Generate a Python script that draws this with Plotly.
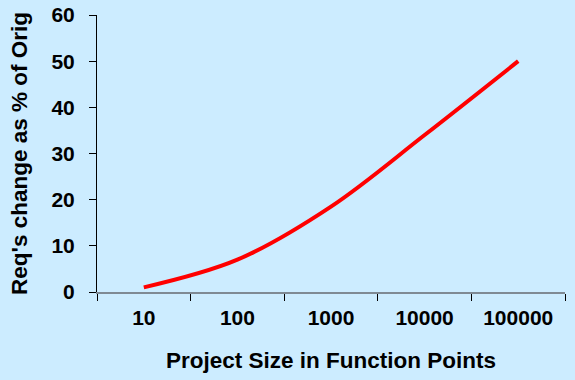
import plotly.graph_objects as go

sizes = ["10", "100", "1000", "10000", "100000"]
req_change = [1, 7, 18.5, 34, 50]
y_ticks = [0, 10, 20, 30, 40, 50, 60]

bg = "#CCECFF"
font_family = "Liberation Sans, Arial, sans-serif"

fig = go.Figure()
fig.add_trace(go.Scatter(
    x=sizes, y=req_change, mode="lines",
    line=dict(color="#FF0000", width=4, shape="spline", smoothing=1.0),
    hoverinfo="skip", showlegend=False,
))

fig.update_layout(
    width=575, height=380,
    paper_bgcolor=bg, plot_bgcolor=bg,
    margin=dict(l=97, r=10, t=15, b=88, autoexpand=False),
    font=dict(family=font_family, color="black"),
    xaxis=dict(
        type="category", tickson="boundaries", range=[-0.5, 4.5],
        automargin=False,
        showgrid=False, zeroline=False,
        showline=True, linecolor="#7F8A94", linewidth=2,
        ticks="outside", ticklen=7, tickcolor="black", tickwidth=1,
        tickfont=dict(size=21, family=font_family),
        ticklabelstandoff=6,
        tickvals=sizes, ticktext=[f"<b>{s}</b>" for s in sizes],
        title=dict(text="<b>Project Size in Function Points</b>",
                   font=dict(size=22.5, family=font_family), standoff=24),
    ),
    yaxis=dict(
        range=[0, 60], tickvals=y_ticks,
        automargin=False,
        ticktext=[f"<b>{v}</b>" for v in y_ticks],
        showgrid=False, zeroline=False,
        showline=True, linecolor="black", linewidth=1,
        ticks="outside", ticklen=7, tickcolor="black", tickwidth=1,
        tickfont=dict(size=21, family=font_family),
        ticklabelstandoff=10,
        title=dict(text="<b>Req's change as % of Orig</b>",
                   font=dict(size=22.5, family=font_family), standoff=17),
    ),
)

fig.write_html(
    "out.html",
    config={"displayModeBar": False, "staticPlot": True},
    post_script="document.body.style.margin='0';document.body.style.background='%s';" % bg,
)
